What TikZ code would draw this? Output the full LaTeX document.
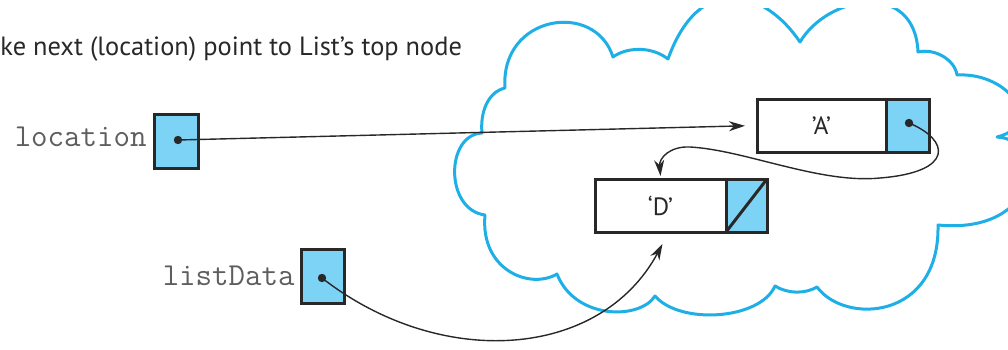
\documentclass[tikz,border=0pt]{standalone}
\usepackage{fontspec}
\setsansfont{PT Sans}
\usetikzlibrary{arrows.meta}
\definecolor{cellblue}{RGB}{125,211,245}
\definecolor{cloudblue}{RGB}{30,175,230}
\definecolor{ink}{RGB}{40,40,40}

\begin{document}
\begin{tikzpicture}[x=0.5pt,y=-0.5pt,
  cell/.style={draw=ink, line width=1.5pt, inner sep=0pt, outer sep=0pt, minimum height=26.5pt},
  ptr/.style={cell, fill=cellblue, minimum width=21.5pt},
  datacell/.style={cell, fill=white, font=\sffamily\fontsize{12.5}{14}\selectfont, text=ink},
  dot/.style={circle, fill=ink, inner sep=0pt, minimum size=4.2pt},
  link/.style={draw=ink, line width=0.7pt, -{Stealth[length=8pt,width=5pt,inset=2.5pt]}},
  varname/.style={font=\ttfamily\fontsize{16}{18}\selectfont, text=ink!75, inner sep=0pt},
  cloudline/.style={draw=cloudblue, line width=1.5pt, line join=round}]

\useasboundingbox (0,0) rectangle (1008,349);

% the cloud that stands for the list's memory
\begin{scope}
  \clip (0,8) rectangle (1008,349);
  \draw[cloudline] (482,133) .. controls (480,112) and (488,92) .. (505,88)
    .. controls (500,15) and (595,0) .. (613,57)
    .. controls (625,48) and (650,45) .. (668,59)
    .. controls (700,-30) and (765,-10) .. (800,42)
    .. controls (828,-5) and (915,-20) .. (918,52)
    .. controls (935,48) and (955,60) .. (957,75)
    .. controls (1010,72) and (1045,125) .. (997,137)
    .. controls (1050,140) and (1040,235) .. (938,225)
    .. controls (940,320) and (845,325) .. (817,287)
    .. controls (805,294) and (788,294) .. (775,286)
    .. controls (760,320) and (680,325) .. (655,296)
    .. controls (640,320) and (575,320) .. (557,274)
    .. controls (530,290) and (480,270) .. (485,215)
    .. controls (445,210) and (445,135) .. (482,133) -- cycle;
\end{scope}

% caption
\node[anchor=base west, inner sep=0pt, font=\sffamily\fontsize{13.2}{15}\selectfont, text=ink]
  (title) at (0,55) {ke next (location) point to List’s top node};

% pointer variables
\node[ptr, minimum width=22pt, minimum height=27pt] (loc) at (176,141) {};
\node[varname, anchor=base east] (loclabel) at (147,146) {location};
\node[ptr, minimum height=27pt] (list) at (322.5,276) {};
\node[varname, anchor=base east] (listlabel) at (295,285) {listData};

% list nodes
\node[datacell, minimum width=64.5pt] (Adata) at (821.5,125.5) {\char"27 A\char"27};
\node[ptr, anchor=west] (Aptr) at (Adata.east) {};
\node[datacell, minimum width=65.5pt] (Ddata) at (660.5,205.5) {‘D’};
\node[ptr, anchor=west, minimum width=20.5pt] (Dptr) at (Ddata.east) {};
\draw[draw=ink, line width=1.5pt] (Dptr.south west) -- (Dptr.north east);

% pointer dots
\node[dot] (locdot) at (178,140) {};
\node[dot] (listdot) at (322,278) {};
\node[dot] (Adot) at (909,123) {};

% links
\draw[link, shorten >=6pt] (locdot.center) -- (Adata.west);
\draw[link] (Adot.center) .. controls (950,140) and (955,172) .. (880,178)
  .. controls (820,184) and (745,150) .. (690,147)
  .. controls (670,146) and (659,158) .. ([yshift=1.5pt]Ddata.north);
\draw[link] (listdot.center) .. controls (440,370) and (600,360) .. ([xshift=1pt,yshift=-6pt]Ddata.south);
\end{tikzpicture}
\end{document}
